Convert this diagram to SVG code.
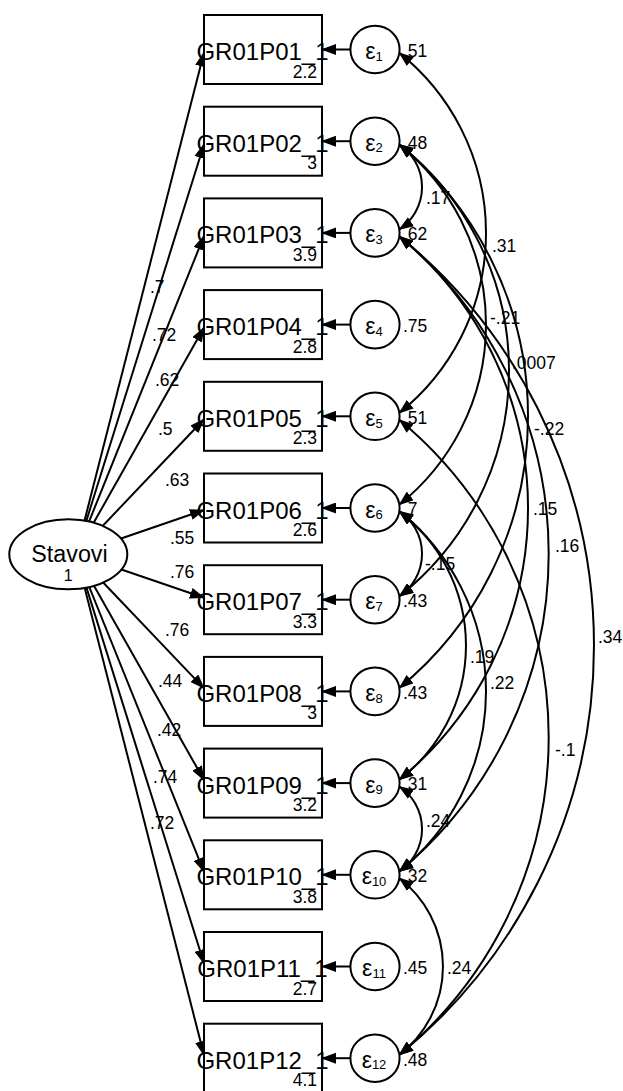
<svg xmlns="http://www.w3.org/2000/svg" width="623" height="1091" viewBox="0 0 623 1091">
  <style>
    text { font-family: "Liberation Sans", Arial, sans-serif; fill: #000; }
    .box { fill: #fff; stroke: #000; stroke-width: 2; }
    .err { fill: #fff; stroke: #000; stroke-width: 2; }
    .lat { fill: #fff; stroke: #000; stroke-width: 2; }
    .c { fill: none; stroke: #000; stroke-width: 2; }
    .path { marker-end: url(#ah); }
    .cov { marker-start: url(#ah); marker-end: url(#ah); }
    .name { font-size: 24px; text-anchor: middle; }
    .mean { font-size: 17.5px; text-anchor: end; }
    .lbl { font-size: 17.5px; }
    .eps { font-size: 23px; text-anchor: middle; }
  </style>
  <defs>
    <marker id="ah" viewBox="0 0 15 11" refX="14" refY="5.5" markerWidth="15" markerHeight="11" markerUnits="userSpaceOnUse" orient="auto-start-reverse">
      <path d="M0,0 L15,5.5 L0,11 z" fill="#000"/>
    </marker>
  </defs>

  <!-- connectors -->
  <g id="connectors">
    <!-- loadings from Stavovi -->
    <line class="c path" x1="76" y1="554" x2="204" y2="52.5"/>
    <line class="c path" x1="76" y1="554" x2="204" y2="144.2"/>
    <line class="c path" x1="76" y1="554" x2="204" y2="235.9"/>
    <line class="c path" x1="76" y1="554" x2="204" y2="327.6"/>
    <line class="c path" x1="76" y1="554" x2="204" y2="419.3"/>
    <line class="c path" x1="76" y1="554" x2="204" y2="510"/>
    <line class="c path" x1="76" y1="554" x2="204" y2="597.7"/>
    <line class="c path" x1="76" y1="554" x2="204" y2="688.4"/>
    <line class="c path" x1="76" y1="554" x2="204" y2="780.1"/>
    <line class="c path" x1="76" y1="554" x2="204" y2="871.8"/>
    <line class="c path" x1="76" y1="554" x2="204" y2="963.5"/>
    <line class="c path" x1="76" y1="554" x2="204" y2="1055.2"/>
    <!-- error terms to indicators -->
    <line class="c path" x1="350.4" y1="49.5" x2="322" y2="49.5"/>
    <line class="c path" x1="350.4" y1="141.2" x2="322" y2="141.2"/>
    <line class="c path" x1="350.4" y1="232.9" x2="322" y2="232.9"/>
    <line class="c path" x1="350.4" y1="324.6" x2="322" y2="324.6"/>
    <line class="c path" x1="350.4" y1="416.3" x2="322" y2="416.3"/>
    <line class="c path" x1="350.4" y1="508" x2="322" y2="508"/>
    <line class="c path" x1="350.4" y1="599.7" x2="322" y2="599.7"/>
    <line class="c path" x1="350.4" y1="691.4" x2="322" y2="691.4"/>
    <line class="c path" x1="350.4" y1="783.1" x2="322" y2="783.1"/>
    <line class="c path" x1="350.4" y1="874.8" x2="322" y2="874.8"/>
    <line class="c path" x1="350.4" y1="966.5" x2="322" y2="966.5"/>
    <line class="c path" x1="350.4" y1="1058.2" x2="322" y2="1058.2"/>
    <!-- error covariances -->
    <path class="c cov" d="M399.3,52.9 A230.2,230.2 0 0 1 399.3,412.9"/>
    <path class="c cov" d="M399.3,144.6 A51,51 0 0 1 399.3,229.5"/>
    <path class="c cov" d="M399.3,144.6 A230.2,230.2 0 0 1 399.3,504.6"/>
    <path class="c cov" d="M399.3,144.6 A287.3,287.3 0 0 1 399.3,596.3"/>
    <path class="c cov" d="M399.3,144.6 A351.1,351.1 0 0 1 399.3,688"/>
    <path class="c cov" d="M399.3,236.3 A351.1,351.1 0 0 1 399.3,779.7"/>
    <path class="c cov" d="M399.3,236.3 A412.2,412.2 0 0 1 399.3,871.4"/>
    <path class="c cov" d="M399.3,236.3 A527.5,527.5 0 0 1 399.3,1054.8"/>
    <path class="c cov" d="M399.3,419.7 A412.2,412.2 0 0 1 399.3,1054.8"/>
    <path class="c cov" d="M399.3,511.4 A51,51 0 0 1 399.3,596.3"/>
    <path class="c cov" d="M399.3,511.4 A168.3,168.3 0 0 1 399.3,779.7"/>
    <path class="c cov" d="M399.3,511.4 A230.2,230.2 0 0 1 399.3,871.4"/>
    <path class="c cov" d="M399.3,786.5 A51,51 0 0 1 399.3,871.4"/>
    <path class="c cov" d="M399.3,878.2 A111.1,111.1 0 0 1 399.3,1054.8"/>

    <!-- loading values -->
    <g class="lbl">
      <text x="150" y="293">.7</text>
      <text x="152" y="340.7">.72</text>
      <text x="155" y="386">.62</text>
      <text x="158" y="435">.5</text>
      <text x="165" y="486">.63</text>
      <text x="170" y="544">.55</text>
      <text x="170" y="578.3">.76</text>
      <text x="165" y="636">.76</text>
      <text x="158" y="687.3">.44</text>
      <text x="157" y="736">.42</text>
      <text x="153" y="783">.74</text>
      <text x="150" y="829">.72</text>
    </g>
    <!-- covariance values -->
    <g class="lbl">
      <text x="426" y="204.3">.17</text>
      <text x="492" y="251.5">.31</text>
      <text x="490" y="324">-.21</text>
      <text x="512" y="369.3">.0007</text>
      <text x="534" y="435">-.22</text>
      <text x="533" y="515">.15</text>
      <text x="555" y="552.3">.16</text>
      <text x="425" y="570">-.15</text>
      <text x="598" y="643.3">.34</text>
      <text x="470" y="662.7">.19</text>
      <text x="490" y="689.3">.22</text>
      <text x="555" y="756">-.1</text>
      <text x="426" y="827.3">.24</text>
      <text x="447" y="974">.24</text>
    </g>
  </g>

  <!-- latent factor -->
  <g id="Stavovi">
    <ellipse class="lat" cx="68.3" cy="554.3" rx="59" ry="35"/>
    <text x="69.5" y="561.7" font-size="23.3" text-anchor="middle">Stavovi</text>
    <text x="68.3" y="581" font-size="16" text-anchor="middle">1</text>
  </g>

  <!-- observed indicators -->
  <g id="GR01P01_1"><rect class="box" x="204" y="15" width="118" height="69"/><text class="name" x="262.5" y="60">GR01P01_1</text><text class="mean" x="317" y="77.5">2.2</text></g>
  <g id="GR01P02_1"><rect class="box" x="204" y="106.7" width="118" height="69"/><text class="name" x="262.5" y="151.7">GR01P02_1</text><text class="mean" x="317" y="169.2">3</text></g>
  <g id="GR01P03_1"><rect class="box" x="204" y="198.4" width="118" height="69"/><text class="name" x="262.5" y="243.4">GR01P03_1</text><text class="mean" x="317" y="260.9">3.9</text></g>
  <g id="GR01P04_1"><rect class="box" x="204" y="290.1" width="118" height="69"/><text class="name" x="262.5" y="335.1">GR01P04_1</text><text class="mean" x="317" y="352.6">2.8</text></g>
  <g id="GR01P05_1"><rect class="box" x="204" y="381.8" width="118" height="69"/><text class="name" x="262.5" y="426.8">GR01P05_1</text><text class="mean" x="317" y="444.3">2.3</text></g>
  <g id="GR01P06_1"><rect class="box" x="204" y="473.5" width="118" height="69"/><text class="name" x="262.5" y="518.5">GR01P06_1</text><text class="mean" x="317" y="536">2.6</text></g>
  <g id="GR01P07_1"><rect class="box" x="204" y="565.2" width="118" height="69"/><text class="name" x="262.5" y="610.2">GR01P07_1</text><text class="mean" x="317" y="627.7">3.3</text></g>
  <g id="GR01P08_1"><rect class="box" x="204" y="656.9" width="118" height="69"/><text class="name" x="262.5" y="701.9">GR01P08_1</text><text class="mean" x="317" y="719.4">3</text></g>
  <g id="GR01P09_1"><rect class="box" x="204" y="748.6" width="118" height="69"/><text class="name" x="262.5" y="793.6">GR01P09_1</text><text class="mean" x="317" y="811.1">3.2</text></g>
  <g id="GR01P10_1"><rect class="box" x="204" y="840.3" width="118" height="69"/><text class="name" x="262.5" y="885.3">GR01P10_1</text><text class="mean" x="317" y="902.8">3.8</text></g>
  <g id="GR01P11_1"><rect class="box" x="204" y="932" width="118" height="69"/><text class="name" x="262.5" y="977">GR01P11_1</text><text class="mean" x="317" y="994.5">2.7</text></g>
  <g id="GR01P12_1"><rect class="box" x="204" y="1023.7" width="118" height="69"/><text class="name" x="262.5" y="1068.7">GR01P12_1</text><text class="mean" x="317" y="1086.2">4.1</text></g>

  <!-- error terms -->
  <g id="e1"><ellipse class="err" cx="375" cy="49.5" rx="24.6" ry="23.8"/><text class="eps" x="374" y="59">ε<tspan font-size="13" dy="1.7">1</tspan></text><text class="lbl" x="403" y="56.8">.51</text></g>
  <g id="e2"><ellipse class="err" cx="375" cy="141.2" rx="24.6" ry="23.8"/><text class="eps" x="374" y="150.7">ε<tspan font-size="13" dy="1.7">2</tspan></text><text class="lbl" x="403" y="148.5">.48</text></g>
  <g id="e3"><ellipse class="err" cx="375" cy="232.9" rx="24.6" ry="23.8"/><text class="eps" x="374" y="242.4">ε<tspan font-size="13" dy="1.7">3</tspan></text><text class="lbl" x="403" y="240.2">.62</text></g>
  <g id="e4"><ellipse class="err" cx="375" cy="324.6" rx="24.6" ry="23.8"/><text class="eps" x="374" y="334.1">ε<tspan font-size="13" dy="1.7">4</tspan></text><text class="lbl" x="403" y="331.9">.75</text></g>
  <g id="e5"><ellipse class="err" cx="375" cy="416.3" rx="24.6" ry="23.8"/><text class="eps" x="374" y="425.8">ε<tspan font-size="13" dy="1.7">5</tspan></text><text class="lbl" x="403" y="423.6">.51</text></g>
  <g id="e6"><ellipse class="err" cx="375" cy="508" rx="24.6" ry="23.8"/><text class="eps" x="374" y="517.5">ε<tspan font-size="13" dy="1.7">6</tspan></text><text class="lbl" x="403" y="515.3">.7</text></g>
  <g id="e7"><ellipse class="err" cx="375" cy="599.7" rx="24.6" ry="23.8"/><text class="eps" x="374" y="609.2">ε<tspan font-size="13" dy="1.7">7</tspan></text><text class="lbl" x="403" y="607">.43</text></g>
  <g id="e8"><ellipse class="err" cx="375" cy="691.4" rx="24.6" ry="23.8"/><text class="eps" x="374" y="700.9">ε<tspan font-size="13" dy="1.7">8</tspan></text><text class="lbl" x="403" y="698.7">.43</text></g>
  <g id="e9"><ellipse class="err" cx="375" cy="783.1" rx="24.6" ry="23.8"/><text class="eps" x="374" y="792.6">ε<tspan font-size="13" dy="1.7">9</tspan></text><text class="lbl" x="403" y="790.4">.31</text></g>
  <g id="e10"><ellipse class="err" cx="375" cy="874.8" rx="24.6" ry="23.8"/><text class="eps" x="374" y="884.3">ε<tspan font-size="13" dy="1.7">10</tspan></text><text class="lbl" x="403" y="882.1">.32</text></g>
  <g id="e11"><ellipse class="err" cx="375" cy="966.5" rx="24.6" ry="23.8"/><text class="eps" x="374" y="976">ε<tspan font-size="13" dy="1.7">11</tspan></text><text class="lbl" x="403" y="973.8">.45</text></g>
  <g id="e12"><ellipse class="err" cx="375" cy="1058.2" rx="24.6" ry="23.8"/><text class="eps" x="374" y="1067.7">ε<tspan font-size="13" dy="1.7">12</tspan></text><text class="lbl" x="403" y="1065.5">.48</text></g>
</svg>
